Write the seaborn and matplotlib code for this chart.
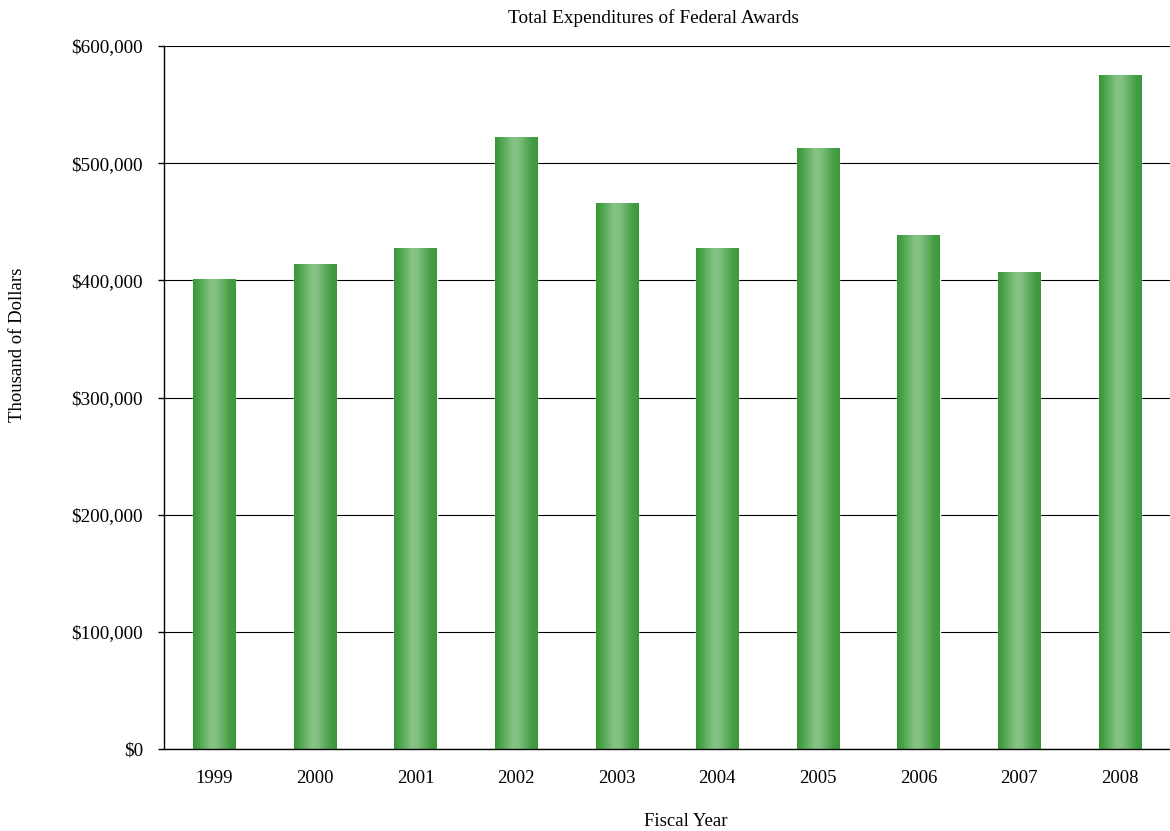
import numpy as np
import pandas as pd
import matplotlib
matplotlib.use("Agg")
import matplotlib.pyplot as plt
from matplotlib.colors import LinearSegmentedColormap
from matplotlib.ticker import FuncFormatter, FixedLocator
import seaborn as sns

years = ["1999", "2000", "2001", "2002", "2003", "2004", "2005", "2006", "2007", "2008"]
expenditures = [401000, 414000, 428000, 522000, 466000, 428000, 513000, 439000, 407000, 575000]
y_ticks = [0, 100000, 200000, 300000, 400000, 500000, 600000]

title = "Total Expenditures of Federal Awards"
x_label = "Fiscal Year"
y_label = "Thousand of Dollars"

sns.set_theme(style="white")
plt.rcParams["font.family"] = ["Liberation Serif", "DejaVu Serif"]

df = pd.DataFrame({"year": years, "value": expenditures})

W, H = 1170, 831
fig = plt.figure(figsize=(W / 100, H / 100), dpi=100)
ax = fig.add_axes([164 / W, 82 / H, 1 - 164 / W, 703 / H])

sns.barplot(data=df, x="year", y="value", color="#5aad5a", width=0.42,
            saturation=1, ax=ax, zorder=3)

cmap = LinearSegmentedColormap.from_list(
    "bar", [(0.0, "#379837"), (0.12, "#48a248"), (0.42, "#86c486"),
            (0.55, "#80c080"), (0.85, "#479e47"), (1.0, "#3a9a3a")])
grad = np.linspace(0, 1, 256).reshape(1, -1)
for p in list(ax.patches):
    x0, y0 = p.get_x(), p.get_y()
    w, h = p.get_width(), p.get_height()
    im = ax.imshow(grad, extent=[x0, x0 + w, y0, y0 + h], aspect="auto",
                   cmap=cmap, zorder=4, interpolation="bilinear")
    im.set_clip_path(p)

ax.set_xlim(-0.5, len(years) - 0.5)
ax.set_ylim(0, 600000)
ax.yaxis.set_major_locator(FixedLocator(y_ticks))
ax.yaxis.set_major_formatter(FuncFormatter(lambda v, _: f"${v:,.0f}"))

ax.grid(axis="y", color="black", linewidth=0.8, zorder=1)
ax.grid(axis="x", visible=False)
ax.set_axisbelow(True)

for s in ["top", "right"]:
    ax.spines[s].set_visible(False)
for s in ["left", "bottom"]:
    ax.spines[s].set_color("black")
    ax.spines[s].set_linewidth(1.0)
    ax.spines[s].set_zorder(5)

ax.set_xticks(np.arange(-0.5, len(years), 1.0), minor=True)
ax.tick_params(axis="x", which="major", length=0, pad=15, labelsize=13.5, colors="black")
ax.tick_params(axis="x", which="minor", length=4.5, width=1.0, color="black", direction="out")
ax.tick_params(axis="y", which="major", length=4.5, width=1.0, color="black",
               direction="out", pad=10.5, labelsize=13.8, labelcolor="black", left=True)

ax.set_xlabel("")
ax.set_ylabel("")
fig.text(686 / W, 1 - 822 / H, x_label, fontsize=13.5, color="black",
         ha="center", va="center")
fig.text(18 / W, 1 - 345 / H, y_label, fontsize=13.5, color="black",
         ha="center", va="center", rotation=90)
fig.text(654 / W, 1 - 18 / H, title, fontsize=13.9, color="black",
         ha="center", va="center")

fig.savefig("out.png", dpi=100)
